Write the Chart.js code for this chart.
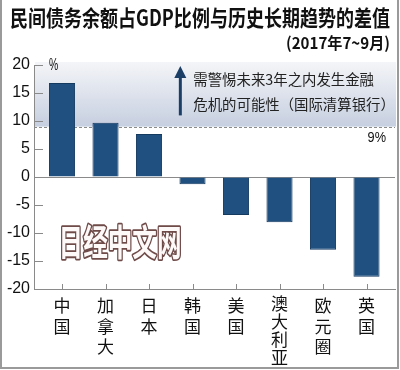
<!DOCTYPE html>
<html>
<head>
<meta charset="utf-8">
<script src="https://cdn.jsdelivr.net/npm/chart.js@4/dist/chart.umd.min.js"></script>
<style>
html,body{margin:0;padding:0;background:#fff;}
#wrap{position:relative;width:400px;height:370px;}
</style>
</head>
<body>
<div id="wrap"><canvas id="c" width="400" height="370"></canvas></div>
<script>
const title = '民间债务余额占GDP比例与历史长期趋势的差值';
const subtitle = '(2017年7~9月)';
const categories = ['中国', '加拿大', '日本', '韩国', '美国', '澳大利亚', '欧元圈', '英国'];
const values = [16.8, 9.7, 7.7, -1.3, -6.8, -8.1, -13.0, -17.8];
const yTicks = [-20, -15, -10, -5, 0, 5, 10, 15, 20];
const thresholdValue = 9;
const thresholdLabel = '9%';
const unitLabel = '%';
const noteLines = ['需警惕未来3年之内发生金融', '危机的可能性（国际清算银行）'];
const watermark = '日经中文网';

const CJK = '"Noto Sans CJK SC", sans-serif';
const GRAY = '#8a8a8a';

const decor = {
  id: 'decor',
  beforeDatasetsDraw(chart) {
    const {ctx, chartArea: a, scales: {x, y}} = chart;
    const yTop = y.getPixelForValue(20) - 3;
    const yThr = y.getPixelForValue(thresholdValue);
    ctx.save();
    const g = ctx.createLinearGradient(0, yTop, 0, yThr);
    g.addColorStop(0, '#f4f5f8');
    g.addColorStop(1, '#c6cfe0');
    ctx.fillStyle = g;
    ctx.fillRect(a.left + 1, yTop, a.right - a.left, yThr - yTop);
    ctx.strokeStyle = GRAY;
    ctx.lineWidth = 1;
    ctx.setLineDash([3, 2]);
    ctx.beginPath();
    ctx.moveTo(a.left, Math.round(yThr) + 0.5);
    ctx.lineTo(a.right, Math.round(yThr) + 0.5);
    ctx.stroke();
    ctx.restore();
  },
  afterDraw(chart) {
    const {ctx, chartArea: a, scales: {x, y}} = chart;
    ctx.save();
    // inward ticks
    ctx.strokeStyle = GRAY;
    ctx.lineWidth = 1;
    ctx.beginPath();
    yTicks.forEach(v => {
      const py = Math.round(y.getPixelForValue(v)) + 0.5;
      ctx.moveTo(a.left, py); ctx.lineTo(a.left + 9, py);
    });
    categories.forEach((c, i) => {
      const px = Math.round(x.getPixelForValue(i)) + 0.5;
      ctx.moveTo(px, a.bottom); ctx.lineTo(px, a.bottom - 5);
    });
    ctx.stroke();

    // title
    ctx.fillStyle = '#111';
    ctx.textBaseline = 'middle';
    ctx.font = 'bold 22px ' + CJK;
    let w = ctx.measureText(title).width;
    ctx.save();
    ctx.translate(10, 18);
    ctx.scale(380 / w, 1);
    ctx.textAlign = 'left';
    ctx.fillText(title, 0, 0);
    ctx.restore();

    ctx.font = 'bold 16px ' + CJK;
    w = ctx.measureText(subtitle).width;
    ctx.save();
    ctx.translate(390, 43);
    ctx.scale(104 / w, 1);
    ctx.textAlign = 'right';
    ctx.fillText(subtitle, 0, 0);
    ctx.restore();

    // unit
    ctx.font = '13px "Liberation Sans", sans-serif';
    ctx.textAlign = 'left';
    ctx.save();
    ctx.translate(a.left + 15, y.getPixelForValue(20) + 1);
    ctx.scale(0.8, 1.2);
    ctx.fillText(unitLabel, 0, 0);
    ctx.restore();

    // 9% label
    ctx.font = '15px "Liberation Sans", sans-serif';
    ctx.save();
    ctx.translate(386, y.getPixelForValue(thresholdValue) + 11);
    ctx.scale(0.85, 1);
    ctx.textAlign = 'right';
    ctx.fillText(thresholdLabel, 0, 0);
    ctx.restore();

    // arrow
    const ax = x.getPixelForValue(2.72);
    const aTop = y.getPixelForValue(20) + 1;
    const aBot = y.getPixelForValue(thresholdValue + 2);
    ctx.fillStyle = '#1b3e66';
    ctx.strokeStyle = '#1b3e66';
    ctx.lineWidth = 3;
    ctx.beginPath();
    ctx.moveTo(ax, aBot); ctx.lineTo(ax, aTop + 10);
    ctx.stroke();
    ctx.beginPath();
    ctx.moveTo(ax, aTop); ctx.lineTo(ax - 6, aTop + 12); ctx.lineTo(ax + 6, aTop + 12);
    ctx.closePath(); ctx.fill();

    // note
    ctx.fillStyle = '#222';
    ctx.font = '14.4px ' + CJK;
    ctx.textAlign = 'left';
    ctx.fillText(noteLines[0], ax + 13, aTop + 14);
    ctx.fillText(noteLines[1], ax + 13, aTop + 39);

    // watermark
    ctx.save();
    ctx.font = 'bold 30px ' + CJK;
    ctx.translate(x.getPixelForValue(-0.08), y.getPixelForValue(-11.7));
    ctx.scale(0.82, 1.2);
    ctx.textAlign = 'left';
    ctx.lineJoin = 'round';
    ctx.lineWidth = 3;
    ctx.strokeStyle = '#6e4a48';
    ctx.strokeText(watermark, 0, 0);
    ctx.fillStyle = '#fcf9f8';
    ctx.fillText(watermark, 0, 0);
    ctx.restore();

    // frame
    ctx.strokeStyle = '#9a9a9a';
    ctx.lineWidth = 2;
    ctx.beginPath();
    ctx.moveTo(1, 0); ctx.lineTo(1, 368); ctx.lineTo(398, 368); ctx.lineTo(398, 0);
    ctx.stroke();
    ctx.restore();
  }
};

new Chart(document.getElementById('c'), {
  type: 'bar',
  data: {
    datasets: [{
      data: values.map((v, i) => ({x: i, y: v})),
      backgroundColor: '#1f5080',
      borderColor: '#153a60',
      borderWidth: 1,
      barPercentage: 0.6,
      categoryPercentage: 1
    }]
  },
  options: {
    responsive: false,
    animation: false,
    layout: {padding: {top: 65, right: 5, left: 0, bottom: 0}},
    plugins: {legend: {display: false}, tooltip: {enabled: false}},
    scales: {
      x: {
        type: 'linear',
        bounds: 'data',
        offset: false,
        min: -0.644,
        max: 7.655,
        afterBuildTicks: s => { s.ticks = categories.map((c, i) => ({value: i})); },
        afterFit: s => { s.height = 81; },
        grid: {display: true, offset: false, color: 'transparent', drawTicks: false},
        border: {display: true, color: GRAY, width: 1},
        ticks: {
          autoSkip: false,
          maxRotation: 0,
          padding: 6,
          color: '#111',
          font: ctx => ({family: CJK, size: 17, lineHeight: (categories[ctx.index] || '').length > 3 ? 1.05 : 1.22}),
          callback: v => (categories[v] || '').split('')
        }
      },
      y: {
        min: -20,
        max: 20,
        afterBuildTicks: s => { s.ticks = yTicks.map(v => ({value: v})); },
        afterFit: s => { s.width = 34; },
        grid: {color: c => (c.tick && c.tick.value === 0) ? GRAY : 'transparent', drawTicks: false},
        border: {display: true, color: GRAY, width: 1},
        ticks: {
          padding: 4,
          color: '#111',
          font: {family: '"Liberation Sans", sans-serif', size: 16}
        }
      }
    }
  },
  plugins: [decor]
});
</script>
</body>
</html>
